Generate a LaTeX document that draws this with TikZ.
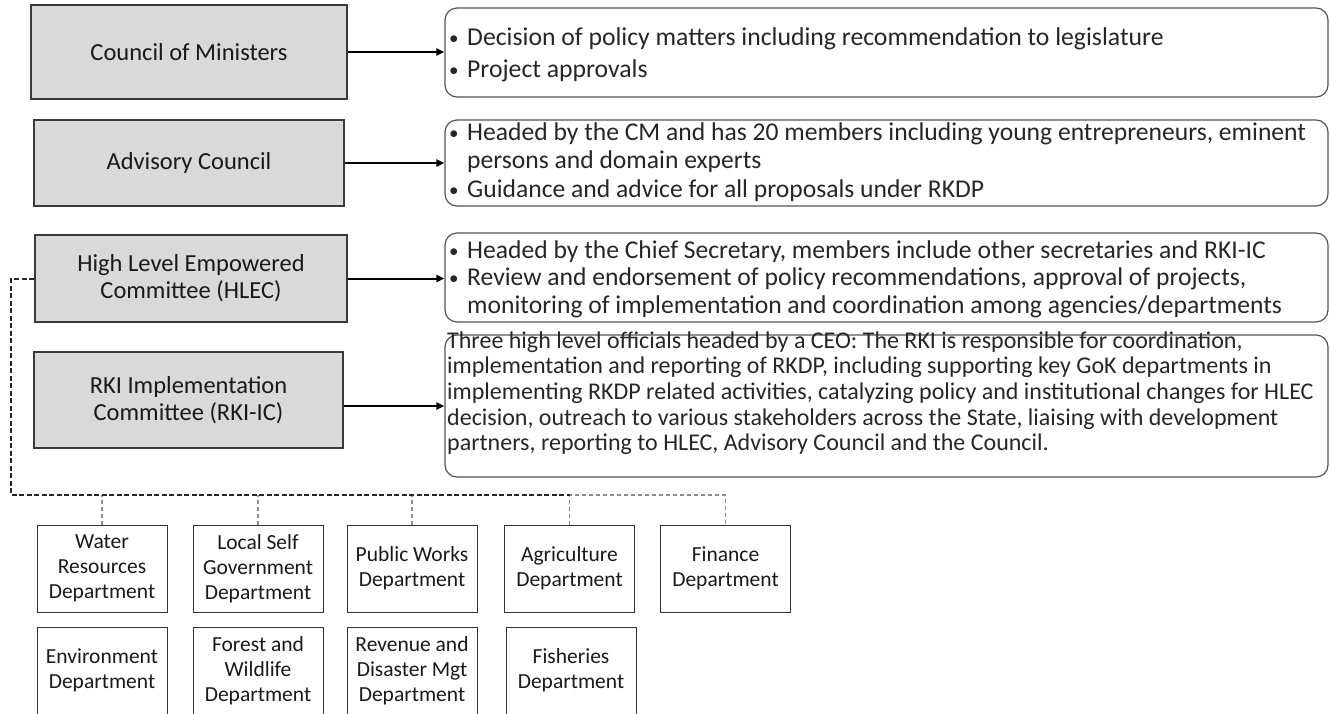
\documentclass[tikz,border=0pt]{standalone}
\usepackage{fontspec}
\setmainfont{Carlito}
\usetikzlibrary{arrows.meta}

\definecolor{boxfill}{HTML}{D9D9D9}
\definecolor{boxline}{HTML}{3A3A3A}
\definecolor{noteline}{HTML}{555555}
\definecolor{notetext}{HTML}{262626}
\definecolor{branchgray}{HTML}{8C8C8C}

% font sizes (pt = px at this scale)
\newcommand\boxfont{\fontsize{24.5}{27}\selectfont}
\newcommand\deptfont{\fontsize{21.5}{25}\selectfont}
\newcommand\bul{\makebox[18pt][l]{\raisebox{1pt}{\fontsize{19}{19}\selectfont •}}}
\newcommand\ind{\hspace*{18pt}}

\begin{document}
\begin{tikzpicture}[x=1pt,y=-1pt,
  lbox/.style={draw=boxline, fill=boxfill, line width=1.2pt, inner sep=0pt,
    align=center, font=\boxfont, text=black!90},
  rbox/.style={draw=noteline, rounded corners=12pt, line width=1.2pt, inner sep=0pt,
    minimum width=883pt},
  note/.style={inner sep=0pt, anchor=base west, text=notetext},
  dbox/.style={draw=black!80, line width=1pt, inner sep=0pt, minimum width=130pt,
    minimum height=87pt, align=center, font=\deptfont, text=black!90},
  arr/.style={-{Triangle[length=8pt,width=7pt]}, line width=2pt, black},
  trunk/.style={black!85, line width=1.5pt, dash pattern=on 5pt off 2.5pt},
  branch/.style={branchgray, line width=1.3pt, dash pattern=on 4pt off 3pt}]

\useasboundingbox (0,0) rectangle (1330,713);
\clip (0,0) rectangle (1330,713);

% governing bodies
\node[lbox, minimum width=316pt, minimum height=94pt] (cm)   at (189,52)    {Council of Ministers};
\node[lbox, minimum width=310pt, minimum height=86pt] (ac)   at (189,163)   {Advisory Council};
\node[lbox, minimum width=312pt, minimum height=87pt] (hlec) at (191,278.5) {High Level Empowered\\Committee (HLEC)};
\node[lbox, minimum width=309pt, minimum height=96pt] (rki)  at (188.5,400) {RKI Implementation\\Committee (RKI-IC)};

% role descriptions
\node[rbox, minimum height=89pt]  (r1) at (886.5,52.5) {};
\node[rbox, minimum height=86pt]  (r2) at (886.5,163)  {};
\node[rbox, minimum height=89pt]  (r3) at (886.5,277.5){};
\node[rbox, minimum height=142pt] (r4) at (886.5,406)  {};

\node[note] (t1) at (449,45) {\fontsize{25.7}{32}\selectfont
  \begin{tabular}[t]{@{}l@{}}
  \bul Decision of policy matters including recommendation to legislature\\
  \bul Project approvals
  \end{tabular}};
\node[note] (t2) at (449,140) {\fontsize{25.6}{28.5}\selectfont
  \begin{tabular}[t]{@{}l@{}}
  \bul Headed by the CM and has 20 members including young entrepreneurs, eminent\\
  \ind persons and domain experts\\
  \bul Guidance and advice for all proposals under RKDP
  \end{tabular}};
\node[note] (t3) at (449,258) {\fontsize{25.6}{27.5}\selectfont
  \begin{tabular}[t]{@{}l@{}}
  \bul Headed by the Chief Secretary, members include other secretaries and RKI-IC\\
  \bul Review and endorsement of policy recommendations, approval of projects,\\
  \ind monitoring of implementation and coordination among agencies/departments
  \end{tabular}};
\node[note] (t4) at (447,348) {\fontsize{24}{25.7}\selectfont
  \begin{tabular}[t]{@{}l@{}}
  Three high level officials headed by a CEO: The RKI is responsible for coordination,\\
  implementation and reporting of RKDP, including supporting key GoK departments in\\
  implementing RKDP related activities, catalyzing policy and institutional changes for HLEC\\
  decision, outreach to various stakeholders across the State, liaising with development\\
  partners, reporting to HLEC, Advisory Council and the Council.
  \end{tabular}};

\draw[arr] (cm.east) -- (r1.west |- cm.east);
\draw[arr] (ac.east) -- (r2.west |- ac.east);
\draw[arr] (hlec.east) -- (r3.west |- hlec.east);
\draw[arr] (rki.east |- r4.west) -- (r4.west);

% line departments
\node[dbox] (wrd)  at (102,568.5)   {Water\\Resources\\Department};
\node[dbox] (lsg)  at (258,568.5)   {Local Self\\Government\\Department};
\node[dbox] (pwd)  at (412,568.5)   {Public Works\\Department};
\node[dbox] (agri) at (569.5,568.5) {Agriculture\\Department};
\node[dbox] (fin)  at (725.5,568.5) {Finance\\Department};
\node[dbox] (env)  at (102,670.5)   {Environment\\Department};
\node[dbox] (fwd)  at (258,670.5)   {Forest and\\Wildlife\\Department};
\node[dbox] (rev)  at (412,670.5)   {Revenue and\\Disaster Mgt\\Department};
\node[dbox] (fish) at (571,670.5)   {Fisheries\\Department};

% HLEC link to the departments
\coordinate (c1) at (11,279);
\coordinate (c2) at (11,495);
\coordinate (bus) at (0,495);
\draw[branch] (wrd.north)  -- (wrd.north |- bus);
\draw[branch] (lsg.north)  -- (lsg.north |- bus);
\draw[branch] (pwd.north)  -- (pwd.north |- bus);
\draw[branch] (agri.north) -- (agri.north |- bus) -- (fin.north |- bus) -- (fin.north);
\draw[trunk] (hlec.west |- c1) -- (c1) -- (c2) -- (agri.north |- bus);
\end{tikzpicture}
\end{document}
